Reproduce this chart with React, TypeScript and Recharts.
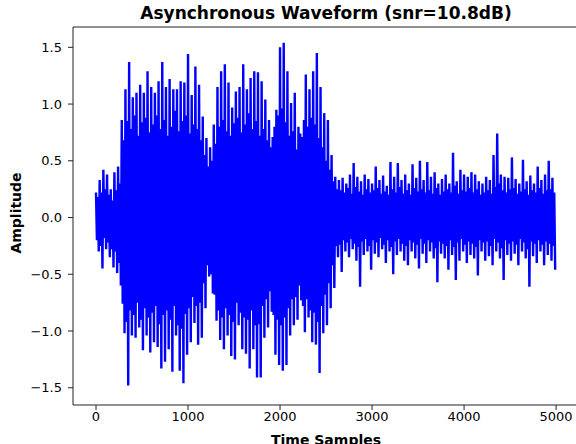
import { LineChart, Line, XAxis, YAxis, ReferenceLine } from 'recharts'

// ── Waveform. Every 40-sample step holds four samples:
// peak (upper), inner dip (coreLo), inner rise (coreHi) and trough (lower)
const upper = [
  0.22, 0.33, 0.42, 0.38, 0.25, 0.40, 0.45, 0.86, 1.13, 1.37,
  1.06, 1.10, 1.17, 1.10, 1.29, 1.15, 1.10, 1.20, 1.37, 1.15,
  1.22, 1.13, 1.13, 1.20, 1.19, 1.44, 1.08, 1.33, 1.17, 0.89,
  0.70, 0.62, 0.82, 1.15, 1.29, 1.35, 1.19, 0.97, 1.11, 1.15,
  1.35, 1.13, 1.23, 1.29, 1.28, 1.20, 1.04, 0.86, 0.71, 0.95,
  1.50, 1.54, 1.29, 1.01, 1.10, 0.80, 0.71, 1.26, 1.13, 1.29,
  1.45, 1.15, 0.92, 0.86, 0.55, 0.36, 0.33, 0.35, 0.30, 0.38,
  0.48, 0.36, 0.32, 0.38, 0.34, 0.30, 0.45, 0.33, 0.37, 0.28,
  0.49, 0.36, 0.48, 0.33, 0.38, 0.30, 0.47, 0.35, 0.50, 0.33,
  0.49, 0.36, 0.40, 0.30, 0.34, 0.38, 0.30, 0.57, 0.32, 0.42,
  0.38, 0.36, 0.40, 0.38, 0.32, 0.30, 0.36, 0.33, 0.55, 0.74,
  0.38, 0.36, 0.35, 0.53, 0.34, 0.30, 0.51, 0.32, 0.37, 0.30,
  0.45, 0.33, 0.38, 0.50, 0.35,
]
const lower = [
  -0.30, -0.45, -0.28, -0.35, -0.44, -0.49, -0.60, -1.02, -1.48, -1.04,
  -1.06, -0.97, -1.17, -1.04, -1.19, -1.10, -1.14, -1.33, -1.27, -1.16,
  -1.36, -1.04, -1.35, -1.46, -1.21, -1.10, -0.93, -1.12, -1.06, -0.80,
  -0.52, -0.67, -0.91, -1.08, -1.16, -1.04, -1.22, -1.25, -0.95, -1.16,
  -1.20, -1.33, -1.16, -1.41, -1.41, -1.06, -0.97, -0.83, -1.21, -1.30,
  -1.35, -1.30, -1.04, -0.95, -0.90, -0.73, -1.01, -0.88, -1.10, -1.12,
  -1.37, -1.02, -0.95, -0.80, -0.62, -0.35, -0.48, -0.30, -0.35, -0.28,
  -0.38, -0.61, -0.33, -0.30, -0.46, -0.32, -0.35, -0.28, -0.40, -0.30,
  -0.50, -0.33, -0.30, -0.38, -0.42, -0.30, -0.36, -0.45, -0.32, -0.40,
  -0.30, -0.36, -0.57, -0.32, -0.36, -0.46, -0.33, -0.55, -0.38, -0.30,
  -0.40, -0.33, -0.36, -0.51, -0.30, -0.38, -0.34, -0.42, -0.30, -0.36,
  -0.55, -0.33, -0.38, -0.32, -0.42, -0.30, -0.36, -0.61, -0.34, -0.40,
  -0.30, -0.42, -0.33, -0.38, -0.46,
]
const coreHi = [
  0.18, 0.22, 0.25, 0.20, 0.15, 0.24, 0.30, 0.68, 0.85, 0.78,
  0.90, 0.72, 0.84, 0.88, 0.75, 0.82, 0.90, 0.78, 0.86, 0.72,
  0.80, 0.94, 0.76, 0.85, 0.90, 0.74, 0.82, 0.78, 0.68, 0.55,
  0.45, 0.50, 0.65, 0.80, 0.86, 0.76, 0.72, 0.83, 0.88, 0.75,
  0.82, 0.92, 0.78, 0.85, 0.72, 0.78, 0.68, 0.62, 0.80, 0.90,
  0.96, 0.84, 0.72, 0.76, 0.60, 0.74, 0.86, 0.80, 0.88, 0.82,
  0.70, 0.62, 0.50, 0.42, 0.32, 0.25, 0.24, 0.22, 0.26, 0.21,
  0.27, 0.23, 0.20, 0.25, 0.22, 0.24, 0.26, 0.21, 0.23, 0.20,
  0.25, 0.22, 0.27, 0.21, 0.24, 0.20, 0.26, 0.23, 0.25, 0.22,
  0.24, 0.21, 0.26, 0.20, 0.23, 0.25, 0.22, 0.28, 0.21, 0.24,
  0.23, 0.26, 0.22, 0.25, 0.20, 0.22, 0.24, 0.21, 0.27, 0.30,
  0.24, 0.22, 0.25, 0.26, 0.21, 0.23, 0.25, 0.20, 0.24, 0.22,
  0.26, 0.21, 0.24, 0.25, 0.22,
]
const coreLo = [
  -0.20, -0.25, -0.18, -0.22, -0.28, -0.30, -0.40, -0.76, -0.92, -0.82,
  -0.86, -0.75, -0.90, -0.80, -0.88, -0.84, -0.78, -0.94, -0.86, -0.82,
  -0.90, -0.78, -0.95, -0.98, -0.85, -0.80, -0.70, -0.78, -0.75, -0.58,
  -0.42, -0.50, -0.68, -0.82, -0.88, -0.80, -0.86, -0.92, -0.75, -0.84,
  -0.88, -0.90, -0.82, -0.95, -0.94, -0.78, -0.72, -0.65, -0.86, -0.90,
  -0.95, -0.88, -0.80, -0.72, -0.70, -0.60, -0.78, -0.72, -0.82, -0.84,
  -0.92, -0.78, -0.68, -0.58, -0.42, -0.25, -0.24, -0.20, -0.22, -0.19,
  -0.23, -0.26, -0.21, -0.19, -0.25, -0.20, -0.22, -0.18, -0.24, -0.20,
  -0.26, -0.21, -0.19, -0.23, -0.25, -0.20, -0.22, -0.24, -0.19, -0.23,
  -0.20, -0.22, -0.27, -0.21, -0.23, -0.25, -0.20, -0.26, -0.22, -0.19,
  -0.24, -0.21, -0.23, -0.26, -0.20, -0.22, -0.21, -0.25, -0.19, -0.22,
  -0.27, -0.20, -0.23, -0.21, -0.24, -0.19, -0.22, -0.28, -0.21, -0.23,
  -0.20, -0.24, -0.21, -0.23, -0.25,
]
const xTicks = [0, 1000, 2000, 3000, 4000, 5000]
const yTicks = [-1.5, -1.0, -0.5, 0.0, 0.5, 1.0, 1.5]

const STEP = 40
const data = upper.flatMap((u, k) => [
  { t: k * STEP, v: u },
  { t: k * STEP + 10, v: coreLo[k] },
  { t: k * STEP + 20, v: coreHi[k] },
  { t: k * STEP + 30, v: lower[k] },
])

const X_MIN = -250, X_MAX = 5249
const Y_MIN = -1.652, Y_MAX = 1.679
const FONT = "'DejaVu Sans', sans-serif"
const AX = '#222'

const fmtY = (v: number) => {
  const s = Math.abs(v).toFixed(1)
  return v < 0 ? `\u2212${s}` : s
}

export default function App() {
  return (
    <div style={{ position: 'absolute', left: 0, top: 0, width: 576, height: 444, overflow: 'hidden', background: '#fff' }}>
      <LineChart width={582} height={444} data={data}
        margin={{ top: 27, right: 3, left: 0, bottom: 0 }}>
        <XAxis dataKey="t" type="number" domain={[X_MIN, X_MAX]} ticks={xTicks}
          allowDataOverflow height={39} tickSize={5} tickMargin={2}
          axisLine={{ stroke: AX, strokeWidth: 1 }} tickLine={{ stroke: AX }}
          tick={{ fill: '#000', fontSize: 13, fontFamily: FONT }} />
        <YAxis type="number" domain={[Y_MIN, Y_MAX]} ticks={yTicks} allowDataOverflow
          width={73} tickSize={5} tickMargin={6} tickFormatter={fmtY}
          axisLine={{ stroke: AX, strokeWidth: 1 }} tickLine={{ stroke: AX }}
          tick={{ fill: '#000', fontSize: 13, fontFamily: FONT }} />
        <ReferenceLine y={Y_MAX} stroke={AX} strokeWidth={1} />
        <ReferenceLine x={X_MAX} stroke={AX} strokeWidth={1} />
        <Line type="linear" dataKey="v" stroke="#0000ff" strokeWidth={2.4}
          dot={false} isAnimationActive={false} />
      </LineChart>

      {/* título y rótulos de ejes */}
      <svg width={576} height={444} style={{ position: 'absolute', left: 0, top: 0, pointerEvents: 'none' }}>
        <text x={326} y={18.5} textAnchor="middle" fontFamily={FONT} fontWeight="bold" fontSize={17} fill="#000">
          Asynchronous Waveform (snr=10.8dB)
        </text>
        <text x={326} y={445} textAnchor="middle" fontFamily={FONT} fontWeight="bold" fontSize={14} fill="#000">
          Time Samples
        </text>
        <text transform="translate(20.5,213) rotate(-90)" textAnchor="middle" fontFamily={FONT} fontWeight="bold" fontSize={14} fill="#000">
          Amplitude
        </text>
      </svg>
    </div>
  )
}
